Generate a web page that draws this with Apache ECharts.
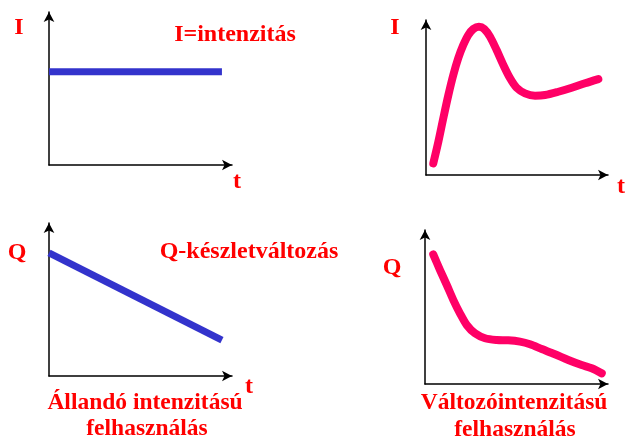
<!DOCTYPE html>
<html>
<head>
<meta charset="utf-8">
<script src="https://cdn.jsdelivr.net/npm/echarts@6/dist/echarts.min.js"></script>
<style>
  html, body { margin: 0; padding: 0; background: #fff; }
  #main { width: 630px; height: 445px; }
</style>
</head>
<body>
<div id="main"></div>
<script>
// top left: constant intensity
var constT = [0, 94.5];
var constI = [61, 61];
// top right: variable intensity
var varT = [4.0, 6.8, 9.5, 12.3, 15.0, 17.7, 20.5, 23.2, 26.0, 29.1, 32.0, 35.2, 38.8, 42.5,
            46.2, 49.8, 54.4, 59.9, 65.4, 72.7, 80.1, 87.4, 94.7];
var varI = [7.5, 21.5, 36.6, 51.6, 64.5, 75.3, 83.9, 90.3, 94.2, 95.7, 94.2, 89.2, 80.6, 71.0,
            62.4, 56.3, 52.7, 51.2, 51.6, 53.7, 56.3, 59.2, 61.9];
// bottom left: stock with constant usage
var stockT = [0, 94.5];
var stockQ = [80.4, 23.5];
// bottom right: stock with variable usage
var stock2T = [4.5, 8.2, 11.9, 15.5, 19.1, 22.8, 27.3, 32.8, 39.2, 45.5, 51.9, 57.4, 63.8,
               71.0, 78.3, 85.6, 91.1, 96.6];
var stock2Q = [84.2, 74.0, 64.3, 54.5, 45.9, 38.3, 32.9, 29.7, 28.6, 28.4, 27.5, 25.8, 22.7,
               19.3, 15.6, 12.3, 10.2, 6.9];

var red = '#ff0000';
var blue = '#3333cc';
var pink = '#ff0066';
var font = '"Liberation Serif", "Times New Roman", serif';

function pairs(xs, ys) {
  return xs.map(function (x, i) { return [x, ys[i]]; });
}

var grids = [
  { left: 49, top: 12, width: 183, height: 153 },
  { left: 426, top: 20, width: 182, height: 155 },
  { left: 49, top: 223, width: 183, height: 153 },
  { left: 425, top: 230, width: 183, height: 154 }
];

var axisLine = {
  show: true,
  symbol: ['none', 'arrow'],
  symbolSize: [8, 10],
  lineStyle: { color: '#000', width: 1.5 }
};

function axes() {
  return grids.map(function (g, i) {
    return {
      type: 'value',
      gridIndex: i,
      min: 0,
      max: 100,
      axisLine: axisLine,
      axisTick: { show: false },
      axisLabel: { show: false },
      splitLine: { show: false }
    };
  });
}

function label(text, x, y, size) {
  return {
    type: 'text',
    x: x,
    y: y,
    style: {
      text: text,
      fill: red,
      font: 'bold ' + (size || 24) + 'px ' + font,
      textAlign: 'center',
      textVerticalAlign: 'middle'
    }
  };
}

var option = {
  backgroundColor: '#fff',
  animation: false,
  grid: grids,
  xAxis: axes(),
  yAxis: axes(),
  series: [
    {
      type: 'line', xAxisIndex: 0, yAxisIndex: 0,
      data: pairs(constT, constI), showSymbol: false,
      lineStyle: { color: blue, width: 7, cap: 'butt' }
    },
    {
      type: 'line', xAxisIndex: 1, yAxisIndex: 1,
      data: pairs(varT, varI), showSymbol: false, smooth: 0.3,
      lineStyle: { color: pink, width: 8, cap: 'round', join: 'round' }
    },
    {
      type: 'line', xAxisIndex: 2, yAxisIndex: 2,
      data: pairs(stockT, stockQ), showSymbol: false,
      lineStyle: { color: blue, width: 7, cap: 'butt' }
    },
    {
      type: 'line', xAxisIndex: 3, yAxisIndex: 3,
      data: pairs(stock2T, stock2Q), showSymbol: false, smooth: 0.3,
      lineStyle: { color: pink, width: 8, cap: 'round', join: 'round' }
    }
  ],
  graphic: [
    label('I', 19, 28),
    label('I=intenzitás', 235, 35),
    label('t', 237, 182),
    label('I', 395, 28),
    label('t', 621, 187),
    label('Q', 17, 253),
    label('Q-készletváltozás', 249, 252),
    label('t', 249, 387),
    label('Állandó intenzitású', 145, 403, 23.5),
    label('felhasználás', 147, 429, 23.5),
    label('Q', 392, 268),
    label('Változóintenzitású', 514, 403, 23.5),
    label('felhasználás', 515, 430, 23.5)
  ]
};

var chart = echarts.init(document.getElementById('main'));
chart.setOption(option);
</script>
</body>
</html>
